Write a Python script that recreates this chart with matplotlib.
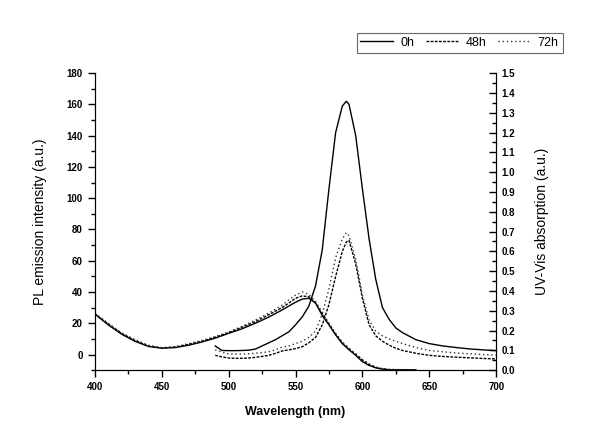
import matplotlib
matplotlib.use("Agg")
import matplotlib.pyplot as plt
from matplotlib.ticker import MultipleLocator

plt.rcParams['font.family'] = ['Liberation Sans', 'DejaVu Sans']

# PL emission (left axis)
wl_pl = [490, 495, 500, 505, 510, 515, 520, 525, 530, 535, 540, 545, 550, 555, 560,
         565, 570, 575, 580, 585, 588, 590, 595, 600, 605, 610, 615, 620, 625, 630,
         640, 650, 660, 670, 680, 690, 700]
pl_0h = [5.5, 2.6, 2.5, 2.5, 2.6, 2.8, 3.5, 5.5, 7.5, 9.5, 12, 14.5, 19, 24, 31,
         44, 67, 106, 142, 159, 162, 160, 140, 106, 74, 48, 30, 22.5, 17, 14,
         9.5, 7, 5.5, 4.5, 3.6, 3, 2.5]
pl_48h = [-0.5, -1.5, -2.2, -2.4, -2.4, -2.2, -1.8, -1.2, -0.5, 0.8, 2.3, 3, 3.8, 5, 7.5,
          11, 19, 32, 50, 66, 72, 73, 58, 36, 19, 12, 8.5, 6, 4, 2.6,
          0.8, -0.5, -1.2, -1.7, -2.1, -2.5, -2.8]
pl_72h = [3, 1.5, 0.4, 0.3, 0.3, 0.5, 0.8, 1.2, 1.8, 3, 4.7, 5.5, 7, 8.5, 11,
          15, 26, 42, 62, 74, 78, 76, 61, 38, 22, 15, 12, 10, 8.5, 7,
          4.5, 2.6, 1.8, 1, 0.5, 0, -0.3]

# UV-Vis absorption (right axis)
wl_abs = [400, 410, 420, 430, 440, 450, 460, 470, 480, 490, 500, 510, 520, 530, 540,
          545, 550, 555, 560, 565, 570, 575, 580, 585, 590, 595, 600, 605, 610, 615,
          620, 630, 640]
abs_0h = [0.284, 0.229, 0.182, 0.146, 0.120, 0.111, 0.114, 0.126, 0.142, 0.162, 0.186,
          0.209, 0.237, 0.268, 0.304, 0.324, 0.343, 0.359, 0.363, 0.339, 0.276, 0.229,
          0.178, 0.134, 0.103, 0.075, 0.043, 0.024, 0.012, 0.006, 0.002, 0.002, 0.002]
abs_48h = [0.284, 0.233, 0.186, 0.150, 0.122, 0.112, 0.117, 0.130, 0.146, 0.166, 0.189,
           0.217, 0.245, 0.280, 0.316, 0.339, 0.363, 0.375, 0.371, 0.339, 0.284, 0.233,
           0.182, 0.138, 0.107, 0.079, 0.051, 0.028, 0.014, 0.006, 0.003, 0.002, 0.002]
abs_72h = [0.288, 0.237, 0.189, 0.154, 0.126, 0.114, 0.118, 0.134, 0.150, 0.170, 0.193,
           0.221, 0.253, 0.288, 0.328, 0.355, 0.379, 0.395, 0.383, 0.347, 0.292, 0.237,
           0.186, 0.142, 0.111, 0.083, 0.055, 0.032, 0.016, 0.008, 0.004, 0.003, 0.002]

styles = {'0h': '-', '48h': (0, (2, 1)), '72h': (0, (1, 2))}

fig = plt.figure(figsize=(6, 4.46), dpi=100)
ax = fig.add_axes([0.158, 0.170, 0.669, 0.666])
ax2 = ax.twinx()

l0, = ax.plot(wl_pl, pl_0h, color='black', lw=1, ls=styles['0h'])
l48, = ax.plot(wl_pl, pl_48h, color='black', lw=1, ls=styles['48h'])
l72, = ax.plot(wl_pl, pl_72h, color='#333333', lw=1, ls=styles['72h'])

ax2.plot(wl_abs, abs_0h, color='black', lw=1, ls=styles['0h'])
ax2.plot(wl_abs, abs_48h, color='black', lw=1, ls=styles['48h'])
ax2.plot(wl_abs, abs_72h, color='#333333', lw=1, ls=styles['72h'])

ax.set_xlim(400, 700)
ax.set_ylim(-10, 180)
ax2.set_ylim(0, 1.5)

for a in (ax, ax2):
    a.spines['top'].set_visible(False)

ax.xaxis.set_major_locator(MultipleLocator(50))
ax.xaxis.set_minor_locator(MultipleLocator(25))
ax.yaxis.set_major_locator(MultipleLocator(20))
ax.yaxis.set_minor_locator(MultipleLocator(10))
ax2.yaxis.set_major_locator(MultipleLocator(0.1))
ax2.yaxis.set_minor_locator(MultipleLocator(0.05))
ax2.yaxis.set_major_formatter(plt.FormatStrFormatter('%.1f'))

ax.tick_params(axis='both', which='major', direction='out', length=5, width=1,
               labelsize=7)
ax.tick_params(axis='both', which='minor', direction='out', length=3, width=1)
ax.tick_params(axis='y', right=False)
ax2.tick_params(axis='y', which='major', direction='in', length=5, width=1,
                labelsize=7, pad=4)
ax2.tick_params(axis='y', which='minor', direction='in', length=3, width=1)

for lab in ax.get_xticklabels() + ax.get_yticklabels() + ax2.get_yticklabels():
    lab.set_fontweight('bold')

ax.set_xlabel('Wavelength (nm)', fontsize=9, fontweight='bold', labelpad=10)
ax.set_ylabel('PL emission intensity (a.u.)', fontsize=10, labelpad=14)
ax2.set_ylabel('UV-Vis absorption (a.u.)', fontsize=10, labelpad=14)

leg = fig.legend([l0, l48, l72], ['0h', '48h', '72h'], loc='center',
                 bbox_to_anchor=(0.766, 0.904), ncol=3, fontsize=9,
                 frameon=True, fancybox=False, edgecolor='#444444',
                 handlelength=2.6, columnspacing=0.9, handletextpad=0.6,
                 borderpad=0.3)
leg.get_frame().set_linewidth(0.8)

fig.savefig('out.png', dpi=100)
